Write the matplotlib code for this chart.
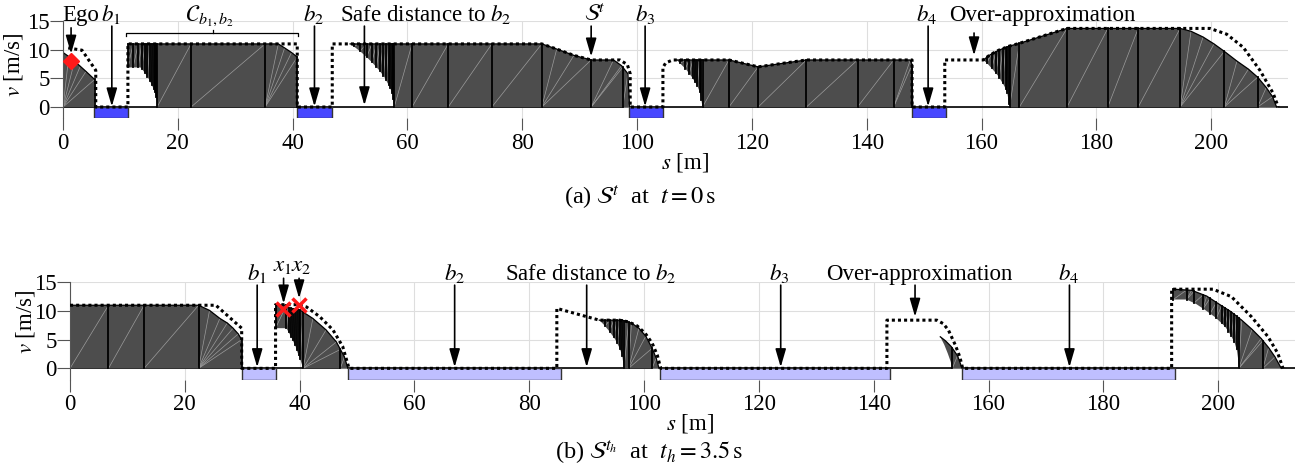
import numpy as np
import matplotlib.pyplot as plt
from matplotlib.patches import Rectangle

plt.rcParams['font.family'] = ['Liberation Serif', 'DejaVu Serif']
plt.rcParams['mathtext.fontset'] = 'stix'
plt.rcParams['font.size'] = 16.5

FILL = '#4d4d4d'
MESH = '#9c9c9c'

# ---------------- (a) t = 0 s ----------------
# reachable set pieces: upper edge, lower edge (s [m], v [m/s]) and cell cuts
a1_up = [(0, 9.5), (1.0, 8.8), (2.0, 8.0), (3.0, 7.1), (4.0, 6.2), (5.5, 4.8)]
a1_lo = [(0, 0), (5.5, 0)]
a1_cuts = [0, 5.5]

a2_up = [(11.3, 11.0), (37.5, 11.0), (38.6, 10.3), (39.8, 9.5), (40.8, 8.7)]
a2_lo = [(11.3, 6.9), (13.5, 6.9), (14.0, 6.3), (14.5, 5.6), (15.0, 4.8), (15.5, 3.8),
         (16.0, 2.6), (16.3, 1.3), (16.4, 0), (40.8, 0)]
a2_cuts = [11.3, 12.2, 13.1, 13.7, 14.3, 14.7, 15.1, 15.5, 15.8, 16.0, 16.2, 16.4,
           22.3, 35.2, 40.8]

a3_up = [(50.0, 11.0), (83.4, 11.0), (86.0, 10.1), (89.0, 9.0), (92.0, 8.2), (95.9, 8.2),
         (97.3, 7.2), (98.4, 5.8), (98.7, 0)]
a3_lo = [(50.0, 11.0), (51.0, 10.3), (52.0, 9.5), (53.0, 8.6), (54.0, 7.6), (55.0, 6.5),
         (56.0, 5.2), (57.0, 3.3), (57.4, 2.2), (57.7, 0), (98.7, 0)]
a3_cuts = [50.6, 51.7, 52.9, 53.8, 54.6, 55.2, 55.8, 56.3, 56.7, 57.0, 57.3, 57.5, 57.7,
           60.8, 67.1, 74.7, 83.4, 92.0, 97.5, 98.7]

a4_up = [(106.9, 8.2), (116.0, 8.2), (121.1, 7.0), (129.5, 8.2), (147.6, 8.2), (147.9, 7.4),
         (148.0, 0)]
a4_lo = [(106.9, 8.2), (107.5, 7.6), (108.5, 6.6), (109.5, 5.3), (110.5, 3.7), (111.0, 2.4),
         (111.4, 0), (148.0, 0)]
a4_cuts = [107.5, 108.4, 109.1, 109.7, 110.1, 110.5, 110.9, 111.2, 111.4, 116.0, 121.1,
           129.5, 138.4, 144.7, 147.9]

a5_up = [(160.3, 8.2), (161.5, 9.1), (163.0, 9.9), (164.8, 10.6), (166.6, 11.1), (174.9, 13.7),
         (194.6, 13.7), (196.5, 13.2), (198.6, 12.2), (200.5, 11.0), (202.3, 9.7), (204.5, 8.0),
         (206.5, 6.6), (208.1, 5.2), (209.6, 3.4), (210.7, 1.8), (211.4, 0)]
a5_lo = [(160.3, 8.2), (161.0, 7.6), (162.0, 6.5), (163.0, 5.3), (164.0, 3.6), (164.5, 2.4),
         (164.9, 0), (211.4, 0)]
a5_cuts = [160.9, 161.8, 162.5, 163.1, 163.7, 164.2, 164.5, 164.8, 164.9, 166.6, 174.9,
           182.0, 187.3, 194.6, 202.3, 208.1, 211.4]

# over-approximation (dotted)
a_over = [(0.9, 10.3), (3.3, 9.9), (5.7, 6.4), (5.7, 0), (11.3, 0), (11.3, 11.0), (40.8, 11.0),
          (40.8, 0), (46.9, 0), (46.9, 11.0), (83.4, 11.0), (86.0, 10.1), (89.0, 9.0),
          (92.0, 8.2), (97.0, 8.2), (98.3, 7.4), (98.8, 5.8), (98.8, 0), (104.5, 0),
          (104.5, 6.9), (105.0, 7.7), (106.2, 8.2), (116.0, 8.2), (121.1, 7.0), (129.5, 8.2),
          (147.9, 8.2), (147.9, 0), (153.6, 0), (153.6, 8.2), (160.3, 8.2), (161.5, 9.1),
          (163.0, 9.9), (164.8, 10.6), (166.6, 11.1), (174.9, 13.7), (199.8, 13.7),
          (202.7, 12.7), (205.6, 10.4), (208.5, 6.4), (210.8, 2.4), (211.7, 0)]

a_obstacles = [(5.4, 11.3), (40.8, 46.9), (98.6, 104.5), (147.9, 153.8)]
a_ego = (1.4, 8.1)

a_labels = ['Ego', '$b_1$', '$b_2$', 'Safe distance to $b_2$', r'$\mathcal{S}^t$', '$b_3$',
            '$b_4$', 'Over-approximation']
a_text_s = [3.0, 8.4, 43.6, 63.2, 92.7, 101.4, 150.5, 170.6]
a_arrow_s = [1.4, 8.5, 43.8, 52.5, 92.0, 101.4, 150.7, 158.7]
a_arrow_tail = [13.8, 14.1, 14.1, 14.1, 14.1, 14.1, 14.1, 12.9]
a_arrow_tip = [9.3, 0.1, 0.1, 0.3, 8.8, 0.1, 0.1, 9.0]

# ---------------- (b) t_h = 3.5 s ----------------
b1_up = [(0, 11.0), (22.4, 11.0), (24.3, 10.1), (26.1, 8.7), (27.4, 7.9), (28.4, 7.0),
         (29.3, 6.0), (29.9, 5.0)]
b1_lo = [(0, 0), (29.9, 0)]
b1_cuts = [0, 6.7, 12.9, 22.4, 29.9]

b2_up = [(35.8, 11.1), (37.7, 11.0), (37.8, 10.6), (40.0, 10.2), (42.3, 8.7), (44.6, 6.7),
         (46.4, 4.6), (47.8, 2.0), (48.4, 0)]
b2_lo = [(35.8, 7.0), (37.7, 7.0), (38.3, 5.9), (38.8, 4.9), (39.3, 3.8), (39.7, 2.6),
         (40.2, 1.3), (40.6, 0), (48.4, 0)]
b2_cuts = [35.8, 37.7, 38.1, 38.5, 38.8, 39.2, 39.5, 39.8, 40.1, 40.6, 47.1, 48.4]

b3_up = [(92.2, 8.4), (96.2, 8.4), (97.8, 7.9), (99.1, 7.0), (100.3, 5.6), (101.4, 3.5),
         (102.1, 1.8), (102.6, 0)]
b3_lo = [(92.2, 8.4), (93.0, 7.6), (94.0, 6.4), (95.0, 5.0), (95.8, 3.4), (96.2, 2.2),
         (96.5, 0), (102.6, 0)]
b3_cuts = [93.2, 94.0, 94.7, 95.3, 95.8, 96.2, 96.5, 97.3, 101.4, 102.6]

b4_up = [(151.6, 5.5), (152.5, 4.8), (153.5, 3.8), (154.6, 2.2), (155.4, 0)]
b4_lo = [(151.6, 5.5), (152.3, 4.1), (152.9, 2.6), (153.4, 1.2), (153.7, 0), (155.4, 0)]
b4_cuts = [153.7, 155.4]

b5_up = [(192.2, 13.8), (195.4, 13.6), (198.0, 12.6), (200.0, 11.3), (202.2, 9.9), (204.1, 8.4),
         (205.9, 6.8), (207.5, 5.2), (208.8, 3.6), (209.9, 2.0), (211.0, 0)]
b5_lo = [(192.2, 12.0), (194.5, 12.0), (196.2, 11.2), (197.7, 10.2), (199.5, 8.9), (201.2, 7.3),
         (202.2, 5.8), (202.9, 4.4), (203.3, 3.0), (203.5, 1.5), (203.6, 0), (211.0, 0)]
b5_cuts = [192.2, 194.5, 195.8, 197.4, 198.6, 199.7, 200.6, 201.2, 201.8, 202.3, 202.8,
           203.2, 203.6, 207.8, 211.0]

b_over = [(0, 11.0), (25.4, 11.0), (29.9, 7.0), (29.9, 0), (35.8, 0), (35.8, 11.1), (39.8, 11.1),
          (41.2, 10.7), (43.5, 9.0), (45.8, 6.7), (47.5, 3.8), (48.6, 0), (84.8, 0),
          (84.8, 10.45), (92.2, 8.4), (95.7, 8.4), (97.3, 8.1), (98.8, 7.4), (100.2, 6.1),
          (101.4, 4.4), (102.3, 2.3), (102.9, 0), (142.3, 0), (142.3, 8.4), (151.0, 8.4),
          (152.1, 7.8), (153.0, 6.7), (154.2, 4.1), (155.0, 2.0), (155.5, 0), (191.9, 0),
          (191.9, 13.8), (199.1, 13.8), (202.3, 12.5), (205.8, 9.0), (208.7, 5.5),
          (210.4, 2.6), (211.3, 0)]

b_obstacles = [(29.9, 35.8), (48.5, 85.6), (102.8, 142.8), (155.4, 192.5)]
b_crosses = [(37.1, 10.3), (39.8, 11.1)]

b_labels = ['$b_1$', '$x_1$', '$x_2$', '$b_2$', 'Safe distance to $b_2$', '$b_3$',
            'Over-approximation', '$b_4$']
b_text_s = [32.5, 37.1, 40.3, 67.0, 90.7, 123.5, 148.0, 173.9]
b_text_v = [15.4, 17.0, 17.0, 15.4, 15.4, 15.4, 15.4, 15.4]
b_arrow_s = [32.6, 37.2, 39.9, 67.0, 90.0, 123.8, 147.2, 174.1]
b_arrow_tail = [14.5, 15.7, 15.7, 14.5, 14.5, 14.5, 14.5, 14.5]
b_arrow_tip = [0.2, 11.3, 12.2, 0.2, 0.2, 0.2, 9.0, 0.2]


def draw_set(ax, up, lo, cuts):
    up = np.array(up, dtype=float)
    lo = np.array(lo, dtype=float)
    poly = np.vstack([lo, up[::-1]])
    ax.fill(poly[:, 0], poly[:, 1], color=FILL, lw=0, zorder=2)
    # faint triangulation of the cells
    for c0, c1 in zip(cuts[:-1], cuts[1:]):
        x0, y0 = c0, np.interp(c0, lo[:, 0], lo[:, 1])
        inner = up[(up[:, 0] > c0) & (up[:, 0] < c1)]
        ends = [tuple(p) for p in inner] + [(c1, np.interp(c1, up[:, 0], up[:, 1]))]
        for x1, y1 in ends:
            ax.plot([x0, x1], [y0, y1], color=MESH, lw=0.5, zorder=2.1)
    for c in cuts:
        ax.plot([c, c], [np.interp(c, lo[:, 0], lo[:, 1]), np.interp(c, up[:, 0], up[:, 1])],
                color='k', lw=1.3, zorder=2.2)
    ax.plot(up[:, 0], up[:, 1], color='k', lw=0.9, zorder=2.3)


def style_axis(ax):
    ax.set_xlim(0, 213.4)
    ax.set_ylim(-2, 15)
    ax.set_xticks([0, 20, 40, 60, 80, 100, 120, 140, 160, 180, 200])
    ax.set_yticks([0, 5, 10, 15])
    for side in ['top', 'right', 'bottom']:
        ax.spines[side].set_visible(False)
    ax.spines['left'].set_color('#555555')
    ax.spines['left'].set_linewidth(0.8)
    ax.tick_params(axis='x', direction='out', length=8.5, width=0.8, color='#555555', pad=2)
    ax.tick_params(axis='y', direction='out', length=9.5, width=0.8, color='#555555', pad=0)
    ax.grid(True, color='#dedede', lw=0.8)
    ax.set_axisbelow(True)
    ax.axhline(0, color='k', lw=1.2, zorder=1.8)
    ax.set_xlabel('$s$ [m]', va='center')
    ax.set_ylabel('$v$ [m/s]', va='center')


def draw_annotations(ax, labels, text_s, text_v, arrow_s, tails, tips):
    for lab, ts, tv, s, t0, t1 in zip(labels, text_s, text_v, arrow_s, tails, tips):
        ax.text(ts, tv, lab, ha='center', va='baseline', zorder=5)
        ax.annotate('', xy=(s, t1), xytext=(s, t0), annotation_clip=False,
                    arrowprops=dict(arrowstyle='-|>,head_length=0.55,head_width=0.16',
                                    color='k', lw=1.2, mutation_scale=20,
                                    shrinkA=0, shrinkB=0), zorder=5)


fig = plt.figure(figsize=(12.97, 4.67), dpi=100)
ax_a = fig.add_axes([0.0486, 0.7463, 0.9445, 0.2088])
ax_b = fig.add_axes([0.0540, 0.1867, 0.9445, 0.2088])

# (a)
style_axis(ax_a)
for s0, s1 in a_obstacles:
    ax_a.add_patch(Rectangle((s0, -2), s1 - s0, 2, facecolor='#4747ff', edgecolor='#333333',
                             lw=1.0, zorder=1.9))
for up, lo, cuts in [(a1_up, a1_lo, a1_cuts), (a2_up, a2_lo, a2_cuts), (a3_up, a3_lo, a3_cuts),
                     (a4_up, a4_lo, a4_cuts), (a5_up, a5_lo, a5_cuts)]:
    draw_set(ax_a, up, lo, cuts)
ov = np.array(a_over)
ax_a.plot(ov[:, 0], ov[:, 1], color='k', lw=2.2, ls=(0, (1, 1)), zorder=3)
ax_a.plot(*a_ego, marker='D', color='#ff1a1a', ms=8, zorder=4, clip_on=False)
draw_annotations(ax_a, a_labels, a_text_s, [14.95] * len(a_labels), a_arrow_s,
                 a_arrow_tail, a_arrow_tip)
# bracket over the gap between b1 and b2
ax_a.plot([11.0, 11.0, 41.0, 41.0], [12.3, 12.9, 12.9, 12.3], color='k', lw=0.9, clip_on=False)
ax_a.plot([26.1, 26.1], [12.9, 13.4], color='k', lw=0.9, clip_on=False)
ax_a.text(25.6, 15.0, r'$\mathcal{C}_{b_1,b_2}$', ha='center', va='baseline')
ax_a.xaxis.set_label_coords(0.508, -0.45)
ax_a.yaxis.set_label_coords(-0.0408, 0.547)

# (b)
style_axis(ax_b)
for s0, s1 in b_obstacles:
    ax_b.add_patch(Rectangle((s0, -2), s1 - s0, 2, facecolor='#bfbfff', edgecolor='#333333',
                             lw=1.0, zorder=1.9))
for up, lo, cuts in [(b1_up, b1_lo, b1_cuts), (b2_up, b2_lo, b2_cuts), (b3_up, b3_lo, b3_cuts),
                     (b4_up, b4_lo, b4_cuts), (b5_up, b5_lo, b5_cuts)]:
    draw_set(ax_b, up, lo, cuts)
ov = np.array(b_over)
ax_b.plot(ov[:, 0], ov[:, 1], color='k', lw=2.2, ls=(0, (1, 1)), zorder=3)
cr = np.array(b_crosses)
ax_b.plot(cr[:, 0], cr[:, 1], ls='none', marker='x', color='#ff1a1a', ms=10, mew=2.5, zorder=4)
draw_annotations(ax_b, b_labels, b_text_s, b_text_v, b_arrow_s, b_arrow_tail, b_arrow_tip)
ax_b.xaxis.set_label_coords(0.506, -0.45)
ax_b.yaxis.set_label_coords(-0.0367, 0.594)

fig.text(0.4934, 0.579, r'(a) $\mathcal{S}^t$  at  $t = 0\,\mathrm{s}$', ha='center', va='center',
         fontsize=17.5)
fig.text(0.5004, 0.032, r'(b) $\mathcal{S}^{t_h}$  at  $t_h = 3.5\,\mathrm{s}$', ha='center',
         va='center', fontsize=17.5)

fig.savefig('out.png', dpi=100)
